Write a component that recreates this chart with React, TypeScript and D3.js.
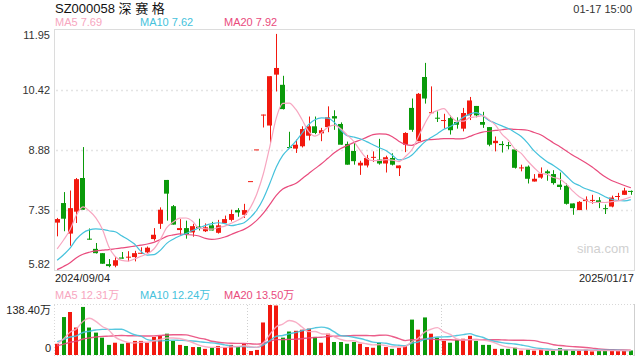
import React from "react";
import * as d3 from "d3";

const W = 640;
const H = 360;

const title = "SZ000058 深 赛 格";
const timeLabel = "01-17 15:00";
const startDate = "2024/09/04";
const endDate = "2025/01/17";
const priceTicks = [11.95, 10.42, 8.88, 7.35, 5.82];
const volTopLabel = "138.40万";
const volMax = 138.4;

// OHLC (index 0 = 2024/09/04 ... index 89 = 2025/01/17)
const opens = [
  7.03, 7.53, 6.75, 7.31, 8.17, 6.62, 6.36, 6.25, 5.97, 5.93,
  6.14, 6.14, 6.15, 6.24, 6.27, 6.61, 7.00, 8.12, 7.45, 6.84,
  6.89, 6.78, 6.93, 6.81, 6.96, 6.77, 7.02, 7.10, 7.35, 7.23,
  8.09, 8.90, 9.79, 9.51, 10.81, 10.55, 8.96, 8.92, 8.98, 9.25,
  9.49, 9.31, 9.47, 9.75, 9.55, 9.04, 8.86, 8.49, 8.49, 8.70,
  8.64, 8.54, 8.68, 8.42, 9.02, 9.96, 9.11, 10.75, 9.84, 9.71,
  9.64, 9.70, 9.60, 9.43, 9.77, 10.01, 9.60, 9.47, 9.06, 9.04,
  9.01, 8.90, 8.42, 8.46, 8.08, 8.18, 8.34, 8.27, 8.00, 7.97,
  7.52, 7.35, 7.58, 7.59, 7.60, 7.40, 7.44, 7.69, 7.74, 7.84,
];
const highs = [
  7.15, 7.81, 7.85, 8.17, 8.96, 6.88, 6.51, 6.25, 6.10, 6.16,
  6.28, 6.30, 6.31, 6.40, 6.42, 6.89, 7.42, 8.12, 7.48, 7.12,
  7.08, 7.00, 7.13, 7.01, 7.05, 7.10, 7.21, 7.36, 7.40, 7.51,
  8.09, 8.90, 9.79, 10.77, 11.85, 10.78, 9.35, 9.15, 9.49, 9.74,
  9.74, 9.45, 10.00, 9.90, 9.59, 9.10, 9.08, 8.61, 8.76, 8.85,
  9.17, 8.74, 8.80, 8.49, 9.34, 10.20, 10.34, 11.11, 10.51, 9.87,
  9.81, 9.77, 9.72, 9.96, 10.24, 10.01, 9.86, 9.47, 9.23, 9.11,
  9.09, 8.90, 8.51, 8.49, 8.27, 8.44, 8.38, 8.37, 8.31, 8.03,
  7.52, 7.58, 7.70, 7.74, 7.68, 7.49, 7.72, 7.79, 7.92, 7.85,
];
const lows = [
  6.68, 6.81, 6.44, 7.02, 7.36, 6.60, 6.24, 5.98, 5.89, 5.89,
  6.11, 6.04, 6.04, 6.24, 6.25, 6.57, 6.87, 7.08, 6.98, 6.72,
  6.62, 6.67, 6.83, 6.79, 6.83, 6.75, 7.02, 7.06, 7.18, 7.15,
  8.09, 8.90, 9.46, 9.04, 10.38, 9.92, 8.94, 8.81, 8.95, 9.13,
  9.29, 9.11, 9.34, 9.40, 9.02, 8.51, 8.51, 8.25, 8.44, 8.58,
  8.51, 8.31, 8.49, 8.22, 8.83, 9.35, 9.11, 10.07, 9.83, 9.60,
  9.43, 9.28, 9.43, 9.36, 9.65, 9.72, 9.45, 8.98, 8.85, 8.82,
  8.90, 8.41, 8.34, 8.03, 8.08, 8.15, 8.10, 8.00, 7.87, 7.49,
  7.23, 7.35, 7.36, 7.51, 7.40, 7.25, 7.42, 7.61, 7.74, 7.74,
];
const closes = [
  7.12, 7.13, 7.40, 8.14, 7.36, 6.60, 6.25, 5.98, 5.92, 6.07,
  6.11, 6.16, 6.25, 6.26, 6.39, 6.72, 7.36, 7.77, 6.98, 6.89,
  6.74, 6.94, 6.89, 6.91, 6.83, 6.96, 7.12, 7.25, 7.29, 7.35,
  8.09, 8.90, 9.79, 10.77, 10.98, 9.93, 8.94, 9.02, 9.42, 9.49,
  9.32, 9.39, 9.72, 9.69, 9.02, 8.51, 8.60, 8.56, 8.68, 8.71,
  8.54, 8.70, 8.51, 8.49, 9.32, 9.40, 10.32, 10.20, 9.85, 9.70,
  9.65, 9.39, 9.53, 9.83, 10.15, 9.77, 9.53, 9.02, 9.12, 9.01,
  8.99, 8.43, 8.44, 8.15, 8.15, 8.28, 8.29, 8.04, 7.94, 7.51,
  7.40, 7.56, 7.62, 7.61, 7.55, 7.38, 7.67, 7.71, 7.85, 7.82,
];
// volume in 万手
const volumes = [
  31, 105, 119, 76, 133, 76, 62, 48, 28, 34,
  31, 34, 39, 39, 34, 50, 53, 59, 39, 28,
  25, 22, 22, 17, 20, 25, 22, 28, 22, 31,
  11, 14, 90, 138.4, 137, 48, 65, 67, 70, 73,
  50, 34, 59, 36, 36, 31, 36, 31, 22, 20,
  34, 22, 17, 20, 25, 98, 70, 104, 59, 48,
  39, 34, 42, 45, 53, 39, 28, 28, 17, 17,
  17, 20, 12, 15, 12, 15, 12, 12, 19, 13.6,
  12, 12, 14.5, 9.95, 12.4, 12, 12, 13, 12, 12.55,
];
// sessions before the window (needed for the moving averages)
const priorCloses = [
  5.5, 5.52, 5.55, 5.58, 5.6, 5.58, 5.6, 5.62, 5.65, 5.7,
  5.72, 5.75, 5.78, 5.8, 5.85, 6.0, 6.1, 6.25, 6.33,
];
const priorVolumes = [
  14, 14, 14, 14, 14, 14, 14, 14, 14, 14,
  50, 45, 45, 40, 40, 30, 30, 28, 31,
];

const RED = "#f2190f";
const GREEN = "#0a9a0a";
const C5 = "#f7a6c0";
const C10 = "#45c2dc";
const C20 = "#e94b7d";
const FONT = "Arial, 'Liberation Sans', 'Noto Sans CJK SC', sans-serif";

function movingAvg(values: number[], prior: number[], n: number): number[] {
  const all = prior.concat(values);
  return values.map((_, i) => {
    const j = i + prior.length;
    return d3.mean(all.slice(j - n + 1, j + 1)) as number;
  });
}

export default function App() {
  const left = 54;
  const right = 634;
  const pTop = 30;
  const pBot = 270;
  const vTop = 305;
  const vBot = 355;

  const idx = d3.range(closes.length);
  const x = d3.scaleBand<number>().domain(idx).range([left, right]).paddingInner(0.22).paddingOuter(0.1);
  const cx = (i: number) => (x(i) as number) + x.bandwidth() / 2;
  const step = x.step();
  const y = d3.scaleLinear().domain([priceTicks[4], priceTicks[0]]).range([pBot, pTop]);
  const yv = d3.scaleLinear().domain([0, volMax]).range([vBot, vTop]);

  const ma5 = movingAvg(closes, priorCloses, 5);
  const ma10 = movingAvg(closes, priorCloses, 10);
  const ma20 = movingAvg(closes, priorCloses, 20);
  const vma5 = movingAvg(volumes, priorVolumes, 5);
  const vma10 = movingAvg(volumes, priorVolumes, 10);
  const vma20 = movingAvg(volumes, priorVolumes, 20);

  const pLine = d3.line<number>().x((_, i) => cx(i)).y((d) => y(d)).curve(d3.curveMonotoneX);
  const vLine = d3.line<number>().x((_, i) => cx(i)).y((d) => yv(d)).curve(d3.curveMonotoneX);

  const last = closes.length - 1;
  const bw = Math.max(1, Math.round(x.bandwidth()));
  const vbw = Math.max(1, Math.round(x.bandwidth() * 0.78));
  const dividers = [30, 60].map((i) => Math.round(cx(i) - step / 2) + 0.5);

  return (
    <svg
      width={W}
      height={H}
      style={{ position: "absolute", left: 0, top: 0, background: "#fff" }}
      fontFamily={FONT}
    >
      <rect x={0} y={0} width={W} height={H} fill="#fff" />
      {/* header */}
      <text x={55} y={13} fontSize={13} fill="#111">{title}</text>
      <text x={632} y={13} fontSize={11} fill="#333" textAnchor="end">{timeLabel}</text>
      <text x={55} y={26} fontSize={11} fill={C5}>{`MA5 ${ma5[last].toFixed(2)}`}</text>
      <text x={140} y={26} fontSize={11} fill={C10}>{`MA10 ${ma10[last].toFixed(2)}`}</text>
      <text x={224} y={26} fontSize={11} fill={C20}>{`MA20 ${ma20[last].toFixed(2)}`}</text>

      {/* price panel frame & grid */}
      <rect x={left + 0.5} y={pTop - 0.5} width={right - left} height={pBot - pTop + 1} fill="none" stroke="#dcdcdc" />
      {priceTicks.slice(1, 4).map((t) => (
        <line key={t} x1={left + 2} x2={right - 2} y1={Math.round(y(t)) + 0.5} y2={Math.round(y(t)) + 0.5}
          stroke="#e4e4e4" strokeWidth={1.5} strokeDasharray="2,3" />
      ))}
      {priceTicks.map((t, i) => {
        const yy = i === 0 ? y(t) + 5 : i === priceTicks.length - 1 ? y(t) - 6 : y(t);
        return (
          <text key={t} x={50} y={yy + 4} fontSize={11} fill="#333" textAnchor="end">{t.toFixed(2)}</text>
        );
      })}
      <text x={603} y={253} fontSize={13} fill="#d0d0d0" textAnchor="middle">sina.com</text>

      {/* candles */}
      {idx.map((i) => {
        const up = closes[i] >= opens[i];
        const col = up ? RED : GREEN;
        const xc = Math.round(cx(i)) + 0.5;
        const top = y(Math.max(opens[i], closes[i]));
        const bot = y(Math.min(opens[i], closes[i]));
        const h = Math.max(1, bot - top);
        return (
          <g key={i}>
            <line x1={xc} x2={xc} y1={y(highs[i])} y2={y(lows[i])} stroke={col} strokeWidth={1} />
            <rect x={Math.round(cx(i) - bw / 2)} y={top} width={bw} height={h} fill={col} />
          </g>
        );
      })}

      {/* price MAs */}
      <path d={pLine(ma20) as string} fill="none" stroke={C20} strokeWidth={1.2} />
      <path d={pLine(ma10) as string} fill="none" stroke={C10} strokeWidth={1.2} />
      <path d={pLine(ma5) as string} fill="none" stroke={C5} strokeWidth={1.2} />

      <text x={55} y={282} fontSize={11} fill="#222">{startDate}</text>
      <text x={634} y={282} fontSize={11} fill="#222" textAnchor="end">{endDate}</text>

      {/* volume panel */}
      <text x={55} y={299} fontSize={11} fill={C5}>{`MA5 ${vma5[last].toFixed(2)}万`}</text>
      <text x={140} y={299} fontSize={11} fill={C10}>{`MA10 ${vma10[last].toFixed(2)}万`}</text>
      <text x={224} y={299} fontSize={11} fill={C20}>{`MA20 ${vma20[last].toFixed(2)}万`}</text>
      <text x={51} y={314} fontSize={11} fill="#222" textAnchor="end">{volTopLabel}</text>
      <text x={51} y={352} fontSize={11} fill="#222" textAnchor="end">0</text>

      <line x1={left} x2={right} y1={vTop - 0.5} y2={vTop - 0.5} stroke="#d8d8d8" strokeDasharray="1,2" />
      <line x1={left} x2={right} y1={vBot + 0.5} y2={vBot + 0.5} stroke="#d8d8d8" strokeDasharray="1,2" />
      <line x1={left + 0.5} x2={left + 0.5} y1={vTop} y2={vBot} stroke="#d8d8d8" strokeDasharray="1,2" />
      <line x1={right + 0.5} x2={right + 0.5} y1={vTop - 1} y2={vBot + 1} stroke="#cfcfcf" />
      {dividers.map((dx) => (
        <line key={dx} x1={dx} x2={dx} y1={vTop} y2={vBot} stroke="#cfcfcf" strokeDasharray="1,2" />
      ))}

      {idx.map((i) => {
        const up = closes[i] >= opens[i];
        return (
          <rect key={i} x={Math.round(cx(i) - vbw / 2)} y={yv(volumes[i])} width={vbw}
            height={vBot - yv(volumes[i])} fill={up ? RED : GREEN} />
        );
      })}
      <path d={vLine(vma20) as string} fill="none" stroke={C20} strokeWidth={1.4} opacity={0.9} />
      <path d={vLine(vma10) as string} fill="none" stroke={C10} strokeWidth={1.4} opacity={0.9} />
      <path d={vLine(vma5) as string} fill="none" stroke={C5} strokeWidth={1.4} opacity={0.9} />
    </svg>
  );
}
